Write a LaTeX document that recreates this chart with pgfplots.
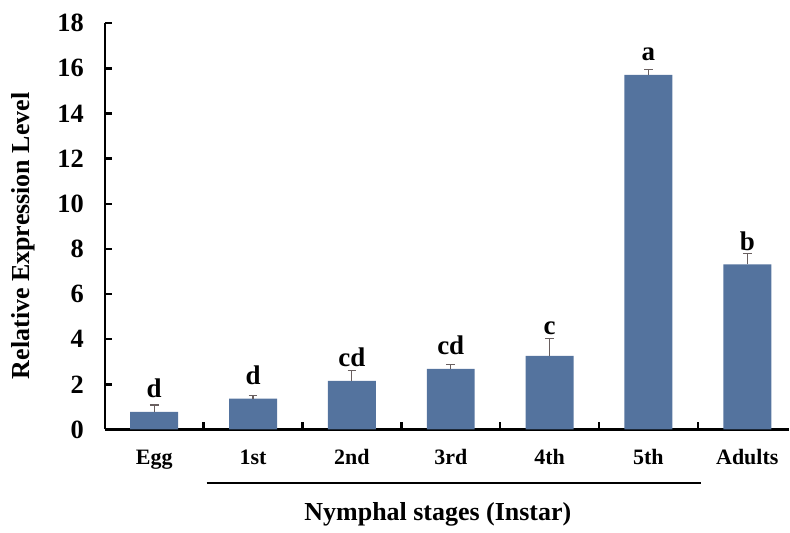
\documentclass[border=0pt]{standalone}
\usepackage{fontspec}
\setmainfont{Liberation Serif}
\usepackage{pgfplots}
\pgfplotsset{compat=1.18}
\usepackage{pgfplotstable}
\definecolor{barblue}{RGB}{84,115,158}
\definecolor{errc}{RGB}{105,95,95}
\pgfplotstableread{
x y e
0 0.78 0.30
1 1.37 0.15
2 2.15 0.46
3 2.69 0.20
4 3.26 0.77
5 15.71 0.23
6 7.31 0.48
}\datatable
\begin{document}
\begin{tikzpicture}
\begin{axis}[
  scale only axis, width=342.5pt, height=203.4pt,
  xmin=-0.5, xmax=6.42, ymin=0, ymax=18,
  axis lines=left, axis line style={-, line width=1.2pt, black},
  tick align=inside, major tick length=3.5pt,
  tick style={line width=1.2pt, black},
  ytick={0,2,...,18},
  xtick={0.5,1.5,...,5.5}, xticklabels={,,,,,},
  extra x ticks={0,1,2,3,4,5,6},
  extra x tick labels={Egg,1st,2nd,3rd,4th,5th,Adults},
  extra x tick style={major tick length=0pt},
  /pgf/number format/assume math mode=true,
  yticklabel style={font=\fontsize{13.2}{15}\selectfont\bfseries, xshift=-7pt},
  xticklabel style={font=\fontsize{11}{13}\selectfont\bfseries, anchor=base, yshift=-17.5pt},
  clip=false,
]
\addplot[ybar, bar width=24pt, fill=barblue, draw=none,
  error bars/.cd, y dir=plus, y explicit,
  error bar style={errc, line width=0.6pt},
  error mark options={errc, rotate=90, mark size=2.2pt, line width=0.6pt}]
  table[x=x, y=y, y error=e] {\datatable};
\begin{scope}[every node/.style={anchor=base, font=\fontsize{13.5}{15}\selectfont\bfseries}]
\node at (axis cs:0,1.42) {d};
\node at (axis cs:1,2.0) {d};
\node at (axis cs:2,2.79) {cd};
\node at (axis cs:3,3.32) {cd};
\node at (axis cs:4,4.2) {c};
\node at (axis cs:5,16.34) {a};
\node at (axis cs:6,7.92) {b};
\end{scope}
\draw[line width=1pt] (axis cs:0.53,-2.35) -- (axis cs:5.53,-2.35);
\node[anchor=base, font=\fontsize{13}{15}\selectfont\bfseries] at (axis cs:2.87,-4.03) {Nymphal stages (Instar)};
\node[rotate=90, anchor=base, font=\fontsize{13}{15}\selectfont\bfseries] at (axis cs:-1.258,8.58) {Relative Expression Level};
\path (axis cs:-1.56,19.03) rectangle (axis cs:6.42,-4.51);
\end{axis}
\end{tikzpicture}
\end{document}
